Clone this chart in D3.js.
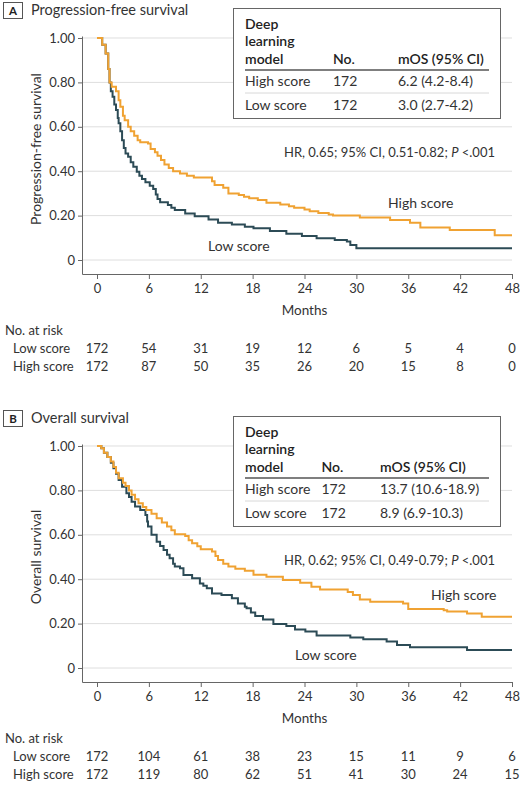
<!DOCTYPE html>
<html>
<head>
<meta charset="utf-8">
<script src="https://cdn.jsdelivr.net/npm/d3@7"></script>
<style>
  html, body { margin: 0; padding: 0; background: #fff; }
  svg { display: block; font-family: Lato, "Noto Sans", sans-serif; }
</style>
</head>
<body>
<svg id="chart" width="524" height="800"></svg>
<script>
// ---------------- DATA ----------------
const monthTicks = [0, 6, 12, 18, 24, 30, 36, 42, 48];
const survTicks = [0, 0.2, 0.4, 0.6, 0.8, 1.0];
const groups = ["Low score", "High score"];

// Progression-free survival: [month, survival]
const pfsHigh = [[0,1.0],[0.6,0.97],[1.0,0.93],[1.3,0.86],[1.45,0.80],[1.7,0.78],[2.2,0.76],[2.5,0.72],[2.7,0.69],[3.0,0.65],[3.2,0.63],[3.6,0.60],[3.9,0.58],[4.3,0.56],[4.7,0.54],[5.0,0.53],[5.9,0.525],[6.2,0.50],[6.7,0.485],[7.0,0.47],[7.4,0.45],[7.8,0.43],[8.3,0.415],[8.8,0.40],[9.6,0.39],[10.4,0.38],[11.2,0.372],[13.3,0.355],[13.6,0.338],[14.6,0.325],[15.2,0.30],[16.4,0.293],[17.0,0.285],[17.6,0.278],[18.6,0.27],[19.6,0.258],[21.2,0.25],[22.2,0.242],[22.8,0.235],[24.0,0.228],[24.6,0.22],[25.6,0.212],[26.8,0.205],[27.3,0.2],[30.4,0.192],[33.9,0.18],[36.2,0.168],[37.4,0.147],[40.8,0.135],[46,0.111],[48,0.111]];
const pfsLow = [[0,1.0],[0.6,0.97],[1.0,0.93],[1.3,0.86],[1.45,0.80],[1.6,0.76],[1.8,0.735],[2.0,0.70],[2.2,0.676],[2.4,0.64],[2.5,0.616],[2.7,0.58],[2.9,0.54],[3.1,0.505],[3.3,0.48],[3.6,0.465],[3.9,0.44],[4.2,0.42],[4.6,0.398],[4.9,0.38],[5.2,0.365],[5.6,0.35],[6.1,0.335],[6.5,0.32],[6.8,0.295],[7.0,0.275],[7.3,0.26],[8.2,0.248],[8.6,0.235],[9.0,0.225],[10.2,0.21],[11.3,0.197],[12.9,0.182],[14.0,0.168],[15.6,0.16],[17.1,0.15],[18.1,0.143],[20.0,0.131],[21.9,0.118],[23.7,0.108],[25.4,0.098],[27.5,0.09],[28.9,0.083],[29.3,0.068],[30.0,0.053],[48,0.053]];

// Overall survival: [month, survival]
const osHigh = [[0,1.0],[0.5,0.99],[0.8,0.97],[1.2,0.95],[1.6,0.93],[1.9,0.905],[2.2,0.88],[2.5,0.855],[3.0,0.835],[3.3,0.82],[3.7,0.80],[4.0,0.78],[4.4,0.76],[4.8,0.742],[5.3,0.725],[5.7,0.712],[6.3,0.695],[6.9,0.675],[7.5,0.655],[8.1,0.637],[8.6,0.62],[9.0,0.602],[10.2,0.595],[10.6,0.575],[11.0,0.562],[11.6,0.548],[12.0,0.535],[13.3,0.525],[13.7,0.505],[14.0,0.486],[14.6,0.47],[15.2,0.457],[16.0,0.447],[17.1,0.438],[18.1,0.42],[19.6,0.411],[21.5,0.396],[23.5,0.384],[24.8,0.366],[25.8,0.354],[29.0,0.342],[29.6,0.329],[30.4,0.309],[31.6,0.298],[35.4,0.291],[36.0,0.266],[40.1,0.26],[40.5,0.254],[42.8,0.246],[44.5,0.231],[48,0.231]];
const osLow = [[0,1.0],[0.5,0.99],[0.8,0.97],[1.2,0.95],[1.6,0.925],[1.9,0.90],[2.2,0.875],[2.5,0.847],[2.9,0.817],[3.4,0.787],[3.7,0.77],[4.0,0.749],[4.4,0.727],[5.0,0.712],[5.6,0.689],[5.8,0.66],[5.9,0.637],[6.3,0.60],[6.9,0.569],[7.3,0.55],[7.7,0.532],[8.1,0.51],[8.4,0.494],[8.8,0.47],[9.0,0.457],[9.6,0.449],[10.0,0.419],[11.0,0.404],[11.9,0.381],[12.3,0.37],[12.7,0.359],[13.3,0.336],[14.4,0.329],[15.6,0.314],[16.3,0.291],[17.1,0.276],[17.3,0.269],[17.8,0.25],[18.3,0.234],[19.2,0.219],[20.4,0.198],[21.9,0.189],[22.9,0.174],[24.1,0.164],[25.4,0.146],[29.3,0.138],[30.8,0.129],[33.5,0.119],[34.7,0.104],[36.2,0.093],[42.8,0.081],[48,0.081]];

// Numbers at risk
const pfsRiskLow  = [172, 54, 31, 19, 12, 6, 5, 4, 0];
const pfsRiskHigh = [172, 87, 50, 35, 26, 20, 15, 8, 0];
const osRiskLow   = [172, 104, 61, 38, 23, 15, 11, 9, 6];
const osRiskHigh  = [172, 119, 80, 62, 51, 41, 30, 24, 15];

// Legend tables
const legendHeader = ["Deep", "learning", "model"];
const legendCols = ["No.", "mOS (95% CI)"];
const pfsLegendRows = [["High score", "172", "6.2 (4.2-8.4)"], ["Low score", "172", "3.0 (2.7-4.2)"]];
const osLegendRows  = [["High score", "172", "13.7 (10.6-18.9)"], ["Low score", "172", "8.9 (6.9-10.3)"]];

const pfsHR = { hr: "0.65", ci: "0.51-0.82", p: "<.001" };
const osHR  = { hr: "0.62", ci: "0.49-0.79", p: "<.001" };

// ---------------- STYLE ----------------
const COL_HIGH = "#F0A232";
const COL_LOW = "#2C4B56";
const AXIS = "#666";
const GRID = "#dedede";
const TXT = "#333";

const svg = d3.select("#chart");

const panels = [
  { oy: 0, letter: "A", title: "Progression-free survival", ylab: "Progression-free survival",
    high: pfsHigh, low: pfsLow, riskLow: pfsRiskLow, riskHigh: pfsRiskHigh,
    legend: pfsLegendRows, colX: [245, 333, 398], hr: pfsHR,
    highLab: [388, 203], lowLab: [208, 246] },
  { oy: 408, letter: "B", title: "Overall survival", ylab: "Overall survival",
    high: osHigh, low: osLow, riskLow: osRiskLow, riskHigh: osRiskHigh,
    legend: osLegendRows, colX: [245, 321.5, 380], hr: osHR,
    highLab: [431, 187], lowLab: [295, 247] }
];

const x = d3.scaleLinear().domain([-1.735, 48]).range([82, 512]);

panels.forEach(p => {
  const g = svg.append("g").attr("transform", `translate(0,${p.oy})`);
  const y = d3.scaleLinear().domain([-0.063, 1.009]).range([274, 36]);

  // panel title
  g.append("rect").attr("x", 3.5).attr("y", 2.5).attr("width", 19).attr("height", 16)
    .attr("fill", "#fff").attr("stroke", "#555").attr("stroke-width", 1);
  g.append("text").attr("x", 13).attr("y", 10.5).attr("dy", "0.35em")
    .attr("text-anchor", "middle").attr("font-size", 11.5).attr("font-weight", "bold")
    .attr("fill", "#222").text(p.letter);
  g.append("text").attr("x", 31).attr("y", 10).attr("dy", "0.35em")
    .attr("font-size", 14.5).attr("fill", TXT).text(p.title);

  // grid
  g.append("g").selectAll("line").data(survTicks).join("line")
    .attr("x1", 82).attr("x2", 512)
    .attr("y1", d => y(d)).attr("y2", d => y(d))
    .attr("stroke", GRID).attr("stroke-width", 1);

  // axes
  const yAxis = g.append("g").attr("transform", "translate(82,0)")
    .call(d3.axisLeft(y).tickValues(survTicks).tickSize(4).tickSizeOuter(0)
      .tickFormat(d => d === 0 ? "0" : d3.format(".2f")(d)));
  yAxis.select(".domain").attr("stroke", AXIS);
  yAxis.selectAll(".tick line").attr("stroke", AXIS);
  yAxis.selectAll(".tick text").attr("font-size", 13).attr("fill", TXT)
    .attr("font-family", "Lato, sans-serif").attr("x", -7);

  const xAxis = g.append("g").attr("transform", "translate(0,274)")
    .call(d3.axisBottom(x).tickValues(monthTicks).tickSize(5).tickSizeOuter(0));
  xAxis.select(".domain").attr("stroke", AXIS);
  xAxis.selectAll(".tick line").attr("stroke", AXIS);
  xAxis.selectAll(".tick text").attr("font-size", 13).attr("fill", TXT)
    .attr("font-family", "Lato, sans-serif").attr("y", 10);

  g.append("text").attr("x", x(24)).attr("y", 310).attr("dy", "0.35em")
    .attr("text-anchor", "middle").attr("font-size", 13.5).attr("fill", TXT).text("Months");

  g.append("text").attr("transform", `translate(36,${y(0.5)}) rotate(-90)`)
    .attr("text-anchor", "middle").attr("dy", "0.35em")
    .attr("font-size", 14).attr("fill", TXT).text(p.ylab);

  // curves
  const line = d3.line().x(d => x(d[0])).y(d => y(d[1])).curve(d3.curveStepAfter);
  g.append("path").datum(p.low).attr("d", line).attr("fill", "none")
    .attr("stroke", COL_LOW).attr("stroke-width", 2);
  g.append("path").datum(p.high).attr("d", line).attr("fill", "none")
    .attr("stroke", COL_HIGH).attr("stroke-width", 2);

  // curve labels
  g.append("text").attr("x", p.highLab[0]).attr("y", p.highLab[1]).attr("dy", "0.35em")
    .attr("font-size", 14).attr("fill", TXT).text("High score");
  g.append("text").attr("x", p.lowLab[0]).attr("y", p.lowLab[1]).attr("dy", "0.35em")
    .attr("font-size", 14).attr("fill", TXT).text("Low score");

  // HR text
  const hr = g.append("text").attr("x", 495).attr("y", 152).attr("dy", "0.35em")
    .attr("text-anchor", "end").attr("font-size", 13).attr("fill", TXT);
  hr.append("tspan").text(`HR, ${p.hr.hr}; 95% CI, ${p.hr.ci}; `);
  hr.append("tspan").attr("font-style", "italic").text("P");
  hr.append("tspan").text(" " + p.hr.p);

  // legend table
  const lg = g.append("g");
  lg.append("rect").attr("x", 233.5).attr("y", 8.5).attr("width", 267).attr("height", 110)
    .attr("fill", "#fff").attr("stroke", "#666").attr("stroke-width", 1);
  const headY = [24, 41.5, 59.5];
  legendHeader.forEach((t, i) => {
    lg.append("text").attr("x", p.colX[0]).attr("y", headY[i]).attr("dy", "0.35em")
      .attr("font-size", 14).attr("font-weight", 600).attr("fill", "#222").text(t);
  });
  legendCols.forEach((t, i) => {
    lg.append("text").attr("x", p.colX[i + 1]).attr("y", headY[2]).attr("dy", "0.35em")
      .attr("font-size", 14).attr("font-weight", 600).attr("fill", "#222").text(t);
  });
  lg.append("line").attr("x1", 245).attr("x2", 489).attr("y1", 70).attr("y2", 70)
    .attr("stroke", "#555").attr("stroke-width", 1.5);
  lg.append("line").attr("x1", 245).attr("x2", 489).attr("y1", 93).attr("y2", 93)
    .attr("stroke", "#d8d8d8").attr("stroke-width", 1);
  const rowY = [81.5, 105];
  p.legend.forEach((row, r) => {
    row.forEach((t, c) => {
      lg.append("text").attr("x", p.colX[c]).attr("y", rowY[r]).attr("dy", "0.35em")
        .attr("font-size", 14).attr("fill", TXT).text(t);
    });
  });

  // risk table
  g.append("text").attr("x", 5).attr("y", 330).attr("dy", "0.35em")
    .attr("font-size", 13).attr("fill", TXT).text("No. at risk");
  [[groups[0], p.riskLow, 348], [groups[1], p.riskHigh, 366.5]].forEach(([name, vals, yy]) => {
    g.append("text").attr("x", 13).attr("y", yy).attr("dy", "0.35em")
      .attr("font-size", 13).attr("fill", TXT).text(name);
    g.append("g").selectAll("text").data(vals).join("text")
      .attr("x", (d, i) => x(monthTicks[i])).attr("y", yy).attr("dy", "0.35em")
      .attr("text-anchor", "middle").attr("font-size", 13).attr("fill", TXT)
      .text(d => d);
  });
});
</script>
</body>
</html>
